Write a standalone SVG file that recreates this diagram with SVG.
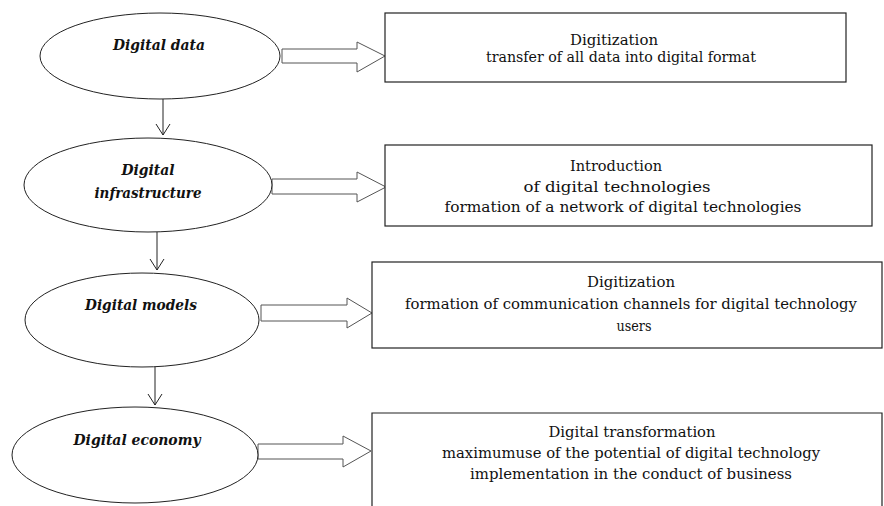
<svg xmlns="http://www.w3.org/2000/svg" width="884" height="506" viewBox="0 0 884 506">
<defs>
<style>
.ell{fill:#fff;stroke:#222;stroke-width:1}
.box{fill:#fff;stroke:#222;stroke-width:1.2}
.blk{fill:#fff;stroke:#555;stroke-width:1}
.vline{stroke:#222;stroke-width:1;fill:none}
text{fill:#111;text-anchor:middle;font-family:"DejaVu Serif","Liberation Serif",serif}
.et{font-size:15px;font-weight:bold;font-style:italic}
.bt{font-size:14.5px}
</style>
</defs>
<rect width="884" height="506" fill="#fff"/>
<g id="connectors">
<line class="vline" x1="163" y1="99" x2="163" y2="135"/>
<path class="vline" d="M156,124 L163,135 L170,124"/>
<line class="vline" x1="157" y1="232" x2="157" y2="270"/>
<path class="vline" d="M150,259 L157,270 L164,259"/>
<line class="vline" x1="155" y1="367" x2="155" y2="405"/>
<path class="vline" d="M148,394 L155,405 L162,394"/>
<polygon class="blk" points="282,49 357,49 357,42 385,56 357,72 357,63 282,63"/>
<polygon class="blk" points="272,179 357,179 357,172 386,187 357,202 357,194 272,194"/>
<polygon class="blk" points="261,305 347,305 347,298 372,313 347,328 347,321 261,321"/>
<polygon class="blk" points="258,444 343,444 343,436 371,451 343,467 343,459 258,459"/>
</g>
<g id="node-digital-data">
<ellipse class="ell" cx="160" cy="56" rx="120" ry="43"/>
<text class="et" x="159" y="50" textLength="92" lengthAdjust="spacingAndGlyphs">Digital data</text>
</g>
<g id="node-digital-infrastructure">
<ellipse class="ell" cx="148" cy="185" rx="124" ry="47"/>
<text class="et" x="148" y="175" textLength="53" lengthAdjust="spacingAndGlyphs">Digital</text>
<text class="et" x="148" y="198" textLength="107" lengthAdjust="spacingAndGlyphs">infrastructure</text>
</g>
<g id="node-digital-models">
<ellipse class="ell" cx="142" cy="320" rx="117" ry="47"/>
<text class="et" x="141" y="310" textLength="112" lengthAdjust="spacingAndGlyphs">Digital models</text>
</g>
<g id="node-digital-economy">
<ellipse class="ell" cx="135" cy="455" rx="123" ry="48"/>
<text class="et" x="137" y="445" textLength="127" lengthAdjust="spacingAndGlyphs">Digital economy</text>
</g>
<g id="box-digitization-1">
<rect class="box" x="385" y="13" width="461" height="69"/>
<text class="bt" x="614" y="45" textLength="88" lengthAdjust="spacingAndGlyphs">Digitization</text>
<text class="bt" x="621" y="62" textLength="270" lengthAdjust="spacingAndGlyphs">transfer of all data into digital format</text>
</g>
<g id="box-introduction">
<rect class="box" x="385" y="145" width="487" height="81"/>
<text class="bt" x="616" y="171" textLength="92" lengthAdjust="spacingAndGlyphs">Introduction</text>
<text class="bt" x="617" y="192" textLength="187" lengthAdjust="spacingAndGlyphs">of digital technologies</text>
<text class="bt" x="623" y="212" textLength="357" lengthAdjust="spacingAndGlyphs">formation of a network of digital technologies</text>
</g>
<g id="box-digitization-2">
<rect class="box" x="372" y="262" width="510" height="86"/>
<text class="bt" x="631" y="287" textLength="88" lengthAdjust="spacingAndGlyphs">Digitization</text>
<text class="bt" x="631" y="309" textLength="452" lengthAdjust="spacingAndGlyphs">formation of communication channels for digital technology</text>
<text class="bt" x="634" y="331" textLength="35" lengthAdjust="spacingAndGlyphs">users</text>
</g>
<g id="box-digital-transformation">
<path class="box" d="M372,520 L372,413 L882,413 L882,520"/>
<text class="bt" x="632" y="437" textLength="167" lengthAdjust="spacingAndGlyphs">Digital transformation</text>
<text class="bt" x="631" y="458" textLength="378" lengthAdjust="spacingAndGlyphs">maximumuse of the potential of digital technology</text>
<text class="bt" x="631" y="479" textLength="322" lengthAdjust="spacingAndGlyphs">implementation  in the conduct of business</text>
</g>
</svg>
